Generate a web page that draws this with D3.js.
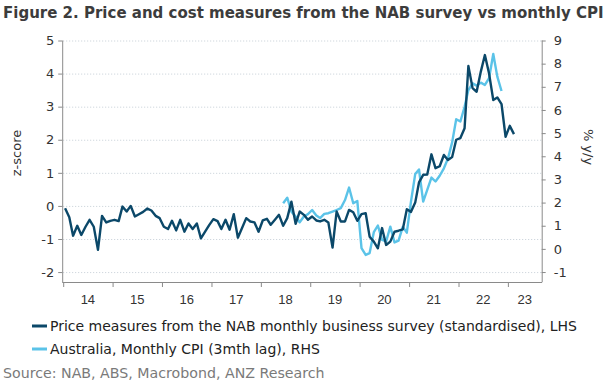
<!DOCTYPE html>
<html><head><meta charset="utf-8">
<script src="https://cdn.jsdelivr.net/npm/d3@7/dist/d3.min.js"></script>
<style>
html,body{margin:0;padding:0;background:#fff;}
svg{display:block;font-family:"DejaVu Sans",Verdana,sans-serif;}
</style></head>
<body><svg id="c" width="605" height="385"></svg>
<script>
// ---- data ----
const title = "Figure 2. Price and cost measures from the NAB survey vs monthly CPI";
const seriesNames = ["Price measures from the NAB monthly business survey (standardised), LHS",
                     "Australia, Monthly CPI (3mth lag), RHS"];
const sourceText = "Source: NAB, ABS, Macrobond, ANZ Research";
const nabStart = [2014, 0];   // Jan 2014
const nabValues = [
 -0.07,-0.34,-0.90,-0.60,-0.88,-0.63,-0.42,-0.63,-1.33,-0.30,-0.50,-0.45,
 -0.42,-0.46,-0.02,-0.17, 0.00,-0.32,-0.25,-0.18,-0.08,-0.14,-0.30,-0.37,
 -0.63,-0.70,-0.45,-0.74,-0.42,-0.78,-0.53,-0.70,-0.53,-0.98,-0.78,-0.58,
 -0.40,-0.46,-0.70,-0.42,-0.72,-0.25,-0.96,-0.67,-0.37,-0.47,-0.50,-0.78,
 -0.44,-0.39,-0.57,-0.42,-0.27,-0.60,-0.37, 0.13,-0.54,-0.17,-0.27,-0.42,
 -0.32,-0.44,-0.47,-0.42,-0.50,-1.26,-0.17,-0.47,-0.47,-0.12,-0.19,-0.45,
 -0.25,-0.22,-0.93,-1.08,-1.28,-0.67,-1.18,-1.08,-0.78,-0.75,-0.71,-0.10,
 -0.18, 0.10, 0.71, 0.94, 0.95, 1.56, 1.14, 1.20, 1.54, 1.39, 1.48, 2.00,
  2.05, 2.35, 4.23, 3.56, 3.45, 4.06, 4.56, 4.00, 3.20, 3.28, 3.08, 2.09,
  2.42, 2.17];
const cpiStart = [2018, 5];   // Jun 2018 (shifted)
const cpiValues = [
  1.97, 2.21, 1.61, 1.40, 1.15, 1.40, 1.50, 1.68, 1.44, 1.33, 1.51, 1.54,
  1.61, 1.68, 1.76, 2.11, 2.65, 1.97, 2.07, 0.03,-0.26,-0.18, 0.72, 1.01,
  0.39, 0.32, 0.96, 0.28, 0.36, 0.95, 0.70, 2.05, 3.23, 3.43, 2.04, 2.55,
  3.08, 2.91, 3.16, 3.48, 3.90, 4.60, 5.60, 5.50, 6.14, 6.86, 7.15, 7.05,
  7.18, 7.08, 7.37, 8.42, 7.44, 6.82];
const leftTicks = [-2,-1,0,1,2,3,4,5];
const rightTicks = [-1,0,1,2,3,4,5,6,7,8,9];
const years = [2014,2015,2016,2017,2018,2019,2020,2021,2022,2023];
const yearLabels = ["14","15","16","17","18","19","20","21","22","23"];

// ---- layout ----
const svg = d3.select("#c");
const X0 = 63.2, X1 = 541.7, YT = 40.5, YB = 282;
const colDark = "#0b4869", colLight = "#5bc3e8";
const x = d3.scaleTime().domain([new Date(2014,0,1), new Date(2023,8,8)]).range([X0, X1]);
const yL = d3.scaleLinear().domain([-2.3, 5]).range([YB, YT]);
const yR = d3.scaleLinear().domain([-1.43, 9]).range([YB, YT]);

const toSeries = (start, vals) => vals.map((v,i) => ({d: new Date(start[0], start[1]+i, 15), v}));
const nab = toSeries(nabStart, nabValues);
const cpi = toSeries(cpiStart, cpiValues);

// title
svg.append("text").attr("x", 3).attr("y", 18).attr("font-size", 15).attr("font-weight", "bold")
  .attr("fill", "#3c3c3c").text(title);

// gridlines
svg.append("g").selectAll("line").data(leftTicks).join("line")
  .attr("x1", X0).attr("x2", X1).attr("y1", d => yL(d)+0.5).attr("y2", d => yL(d)+0.5)
  .attr("stroke", "#c5ced6").attr("stroke-width", 1).attr("stroke-dasharray", "1,2");

const fmt = d => String(d);
// left axis
const gL = svg.append("g").attr("transform", `translate(${X0-1},0)`)
  .call(d3.axisLeft(yL).tickValues(leftTicks).tickSize(4).tickPadding(4).tickFormat(fmt));
gL.select(".domain").attr("d", `M0.5,${YT}V${YB}`);
// right axis
const gR = svg.append("g").attr("transform", `translate(${X1},0)`)
  .call(d3.axisRight(yR).tickValues(rightTicks).tickSize(4).tickPadding(8).tickFormat(fmt));
gR.select(".domain").attr("d", `M0.5,${YT}V${YB}`);
// bottom axis
const tickDates = years.map(y => new Date(y,0,1));
const gB = svg.append("g").attr("transform", `translate(0,${YB})`)
  .call(d3.axisBottom(x).tickValues(tickDates).tickSize(5).tickFormat(""));
gB.select(".domain").attr("d", `M${X0-1},0.5H${X1+0.5}`);
gB.selectAll(".yl").data(years).join("text").attr("class","yl")
  .attr("x", (y) => { const a = Math.max(x(new Date(y,0,1)), X0), b = Math.min(x(new Date(y+1,0,1)), X1); return (a+b)/2; })
  .attr("y", 22).attr("text-anchor", "middle").attr("fill", "#333").attr("font-size", 13)
  .text((y,i) => yearLabels[i]);

[gL, gR, gB].forEach(g => {
  g.selectAll(".domain").attr("stroke", "#8a8a8a");
  g.selectAll(".tick line").attr("stroke", "#8a8a8a");
  g.selectAll(".tick text").attr("fill", "#333").attr("font-size", 13).attr("font-family", "DejaVu Sans, Verdana, sans-serif");
});

// axis titles
svg.append("text").attr("transform", "translate(21,153) rotate(-90)").attr("text-anchor", "middle")
  .attr("font-size", 13).attr("fill", "#333").text("z-score");
svg.append("text").attr("transform", "translate(584,147) rotate(90)").attr("text-anchor", "middle")
  .attr("font-size", 13).attr("fill", "#333").text("% y/y");

// lines
const lineL = d3.line().x(d => x(d.d)).y(d => yL(d.v));
const lineR = d3.line().x(d => x(d.d)).y(d => yR(d.v));
svg.append("path").datum(cpi).attr("d", lineR).attr("fill", "none").attr("stroke", colLight)
  .attr("stroke-width", 2.4).attr("stroke-linejoin", "round");
svg.append("path").datum(nab).attr("d", lineL).attr("fill", "none").attr("stroke", colDark)
  .attr("stroke-width", 2.4).attr("stroke-linejoin", "round");

// legend
const leg = svg.append("g");
[[colDark, 326], [colLight, 349]].forEach(([c, yy], i) => {
  leg.append("line").attr("x1", 32).attr("x2", 47).attr("y1", yy).attr("y2", yy)
    .attr("stroke", c).attr("stroke-width", 3);
  leg.append("text").attr("x", 50).attr("y", yy + 5).attr("font-size", 14).attr("fill", "#222")
    .text(seriesNames[i]);
});
svg.append("text").attr("x", 3).attr("y", 378).attr("font-size", 14.2).attr("fill", "#7a7a7a").text(sourceText);
</script></body></html>
